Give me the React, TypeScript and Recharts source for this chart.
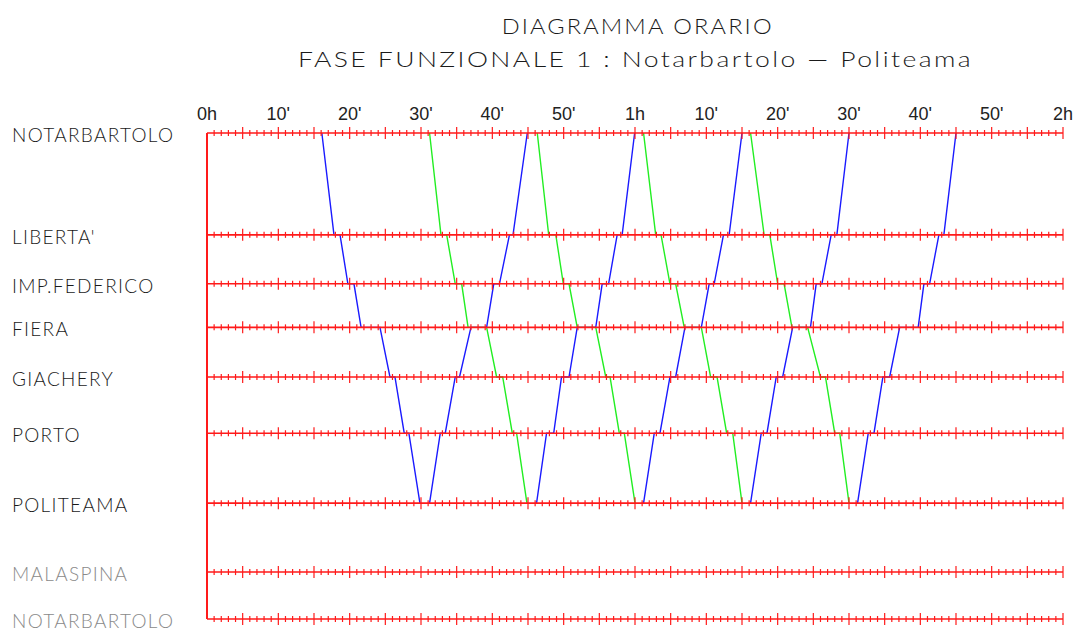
import React from "react";
import { Line, LineChart, ReferenceLine, XAxis, YAxis } from "recharts";

// stations, top to bottom, with distance along the line (km)
const stations = [
  "NOTARBARTOLO",
  "LIBERTA'",
  "IMP.FEDERICO",
  "FIERA",
  "GIACHERY",
  "PORTO",
  "POLITEAMA",
  "MALASPINA",
  "NOTARBARTOLO",
];
const stationKm = [0, 1.02, 1.51, 1.946, 2.443, 3.006, 3.706, 4.396, 4.866];

const timeTicks = [0, 10, 20, 30, 40, 50, 60, 70, 80, 90, 100, 110, 120];
const timeLabels = ["0h", "10'", "20'", "30'", "40'", "50'", "1h", "10'", "20'", "30'", "40'", "50'", "2h"];

// stop sequence (station index) for each arrival / departure time
const downStops = [0, 1, 1, 2, 2, 3, 3, 4, 4, 5, 5, 6];
const upStops = [6, 5, 5, 4, 4, 3, 3, 2, 2, 1, 1, 0];

// times in minutes
const blueDown1 = [16.1, 17.8, 18.65, 19.75, 20.6, 21.6, 24.25, 25.65, 26.35, 27.65, 28.3, 29.85];
const greenDown1 = [31.2, 32.8, 33.6, 34.8, 35.7, 36.6, 39.2, 40.6, 41.45, 42.8, 43.4, 44.85];
const greenDown2 = [46.3, 47.9, 48.9, 49.95, 50.75, 51.9, 54.5, 55.9, 56.5, 57.8, 58.5, 60.0];
const greenDown3 = [61.2, 62.9, 63.65, 64.9, 65.7, 66.9, 69.3, 70.6, 71.5, 72.85, 73.7, 75.0];
const greenDown4 = [76.2, 78.1, 78.9, 80.0, 80.9, 82.0, 84.2, 86.0, 86.7, 88.0, 88.7, 90.0];

const blueUp1 = [31.2, 32.7, 33.4, 34.8, 35.4, 37.0, 39.2, 40.2, 41.0, 42.4, 42.9, 44.9];
const blueUp2 = [46.2, 47.6, 48.6, 49.7, 50.75, 51.9, 54.5, 55.4, 56.3, 57.5, 58.2, 59.95];
const blueUp3 = [61.2, 62.7, 63.5, 64.9, 65.7, 67.0, 69.3, 70.4, 71.1, 72.4, 73.2, 75.0];
const blueUp4 = [76.2, 77.7, 78.5, 79.8, 80.7, 82.1, 84.6, 85.4, 86.2, 87.5, 88.3, 90.0];
const blueUp5 = [91.2, 92.7, 93.5, 94.75, 95.7, 97.1, 99.7, 100.5, 101.3, 102.6, 103.3, 105.0];

const BLUE = "#1a1aff";
const GREEN = "#22ee22";
const RED = "#ff1a1a";
const MAX_MIN = 120;

const toRun = (times: number[], stops: number[]) =>
  times.map((t, i) => ({ t, d: stationKm[stops[i]] }));

const trains = [
  { id: "b1", color: BLUE, data: toRun(blueDown1, downStops) },
  { id: "g1", color: GREEN, data: toRun(greenDown1, downStops) },
  { id: "g2", color: GREEN, data: toRun(greenDown2, downStops) },
  { id: "g3", color: GREEN, data: toRun(greenDown3, downStops) },
  { id: "g4", color: GREEN, data: toRun(greenDown4, downStops) },
  { id: "u1", color: BLUE, data: toRun(blueUp1, upStops) },
  { id: "u2", color: BLUE, data: toRun(blueUp2, upStops) },
  { id: "u3", color: BLUE, data: toRun(blueUp3, upStops) },
  { id: "u4", color: BLUE, data: toRun(blueUp4, upStops) },
  { id: "u5", color: BLUE, data: toRun(blueUp5, upStops) },
];

const labelFont = "Lato, 'Liberation Sans', sans-serif";

// station line with minute ticks (long tick every 5')
const TickedLine = (props: any) => {
  const { x1, y1, x2 } = props;
  const step = (x2 - x1) / MAX_MIN;
  const marks = [];
  for (let m = 1; m <= MAX_MIN; m++) {
    const h = m % 5 === 0 ? 6 : 3;
    const x = x1 + step * m;
    marks.push(<line key={m} x1={x} x2={x} y1={y1 - h} y2={y1 + h} stroke={RED} strokeWidth={1.2} />);
  }
  return (
    <g>
      <line x1={x1} x2={x2} y1={y1} y2={y1} stroke={RED} strokeWidth={1.6} />
      {marks}
    </g>
  );
};

const StationTick = (props: any) => {
  const { y, payload } = props;
  const i = stationKm.indexOf(payload.value);
  return (
    <text
      x={12}
      y={y + 9}
      fontFamily={labelFont}
      fontWeight={300}
      fontSize={19}
      letterSpacing={1.3}
      fill={i < 7 ? "#1a1a1a" : "#8a8a8a"}
    >
      {stations[i]}
    </text>
  );
};

const TimeTick = (props: any) => {
  const { x, y, payload } = props;
  const i = timeTicks.indexOf(payload.value);
  return (
    <text x={x} y={y - 5} textAnchor="middle" fontFamily="'Liberation Sans', Arial, sans-serif" fontSize={18} fill="#222">
      {timeLabels[i]}
    </text>
  );
};

export default function App() {
  return (
    <div style={{ position: "absolute", left: 0, top: 0, width: 1079, height: 633, background: "#fff" }}>
      <svg width={1079} height={80} style={{ position: "absolute", left: 0, top: 0 }}>
        <text x={501.7} y={34.3} fontFamily={labelFont} fontWeight={300} fontSize={22} letterSpacing={2} fill="#1a1a1a" textLength={272} lengthAdjust="spacingAndGlyphs">
          DIAGRAMMA ORARIO
        </text>
        <text x={298} y={66.7} fontFamily={labelFont} fontWeight={300} fontSize={22} letterSpacing={2} fill="#1a1a1a" textLength={675} lengthAdjust="spacingAndGlyphs">
          FASE FUNZIONALE 1 : Notarbartolo — Politeama
        </text>
      </svg>
      <LineChart width={1079} height={633} margin={{ top: 103, right: 16, bottom: 14, left: 0 }}>
        <XAxis
          type="number"
          dataKey="t"
          orientation="top"
          domain={[0, MAX_MIN]}
          ticks={timeTicks}
          interval={0}
          height={30}
          axisLine={false}
          tickLine={false}
          tick={<TimeTick />}
        />
        <YAxis
          type="number"
          dataKey="d"
          domain={[0, stationKm[stationKm.length - 1]]}
          reversed
          ticks={stationKm}
          interval={0}
          width={207}
          axisLine={false}
          tickLine={false}
          tick={<StationTick />}
        />
        {trains.map((tr) => (
          <Line
            key={tr.id}
            data={tr.data}
            dataKey="d"
            type="linear"
            stroke={tr.color}
            strokeWidth={1.4}
            dot={false}
            activeDot={false}
            isAnimationActive={false}
          />
        ))}
        {stationKm.map((d, i) => (
          <ReferenceLine key={i} y={d} shape={<TickedLine />} />
        ))}
        <ReferenceLine x={0} stroke={RED} strokeWidth={2} />
      </LineChart>
    </div>
  );
}
